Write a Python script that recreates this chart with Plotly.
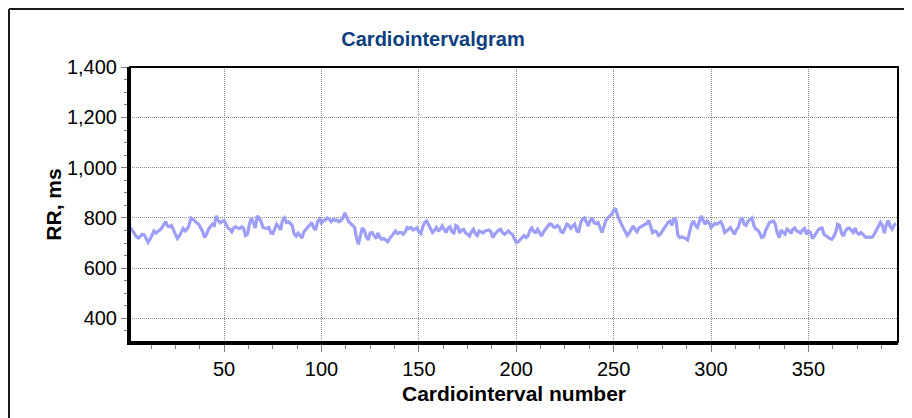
import plotly.graph_objects as go

# ---- data ----
beat_no = list(range(2, 396))

rr_ms = [
    761, 750, 735, 725, 720, 730, 735, 733, 718, 703,
    715, 735, 748, 740, 745, 752, 760, 775, 785, 768,
    765, 770, 755, 735, 718, 728, 745, 758, 748, 755,
    770, 800, 795, 785, 780, 775, 760, 745, 722, 735,
    755, 768, 775, 770, 808, 790, 780, 785, 790, 775,
    760, 755, 745, 760, 765, 760, 758, 765, 760, 730,
    735, 775, 800, 780, 760,
    808, 800, 785, 762, 760, 758, 762, 740, 738, 755,
    775, 765, 752, 790, 800, 782, 785, 778, 770, 735,
    728, 740, 730, 720, 745, 755, 760, 775, 782, 760,
    752, 785, 795, 780, 790, 792, 800, 795, 785, 795,
    790, 792, 785, 790, 800, 820, 805, 785, 778, 770,
    762, 720, 695, 730, 760, 750, 725, 712, 740, 742,
    730, 718, 740,
    722, 715, 718, 712, 705, 718, 728, 740, 748, 738,
    742, 742, 735, 745, 762, 758, 762, 752, 755, 760,
    745, 738, 765, 782, 788, 770, 758, 742, 750, 762,
    750, 755, 768, 755, 742, 760, 765, 745, 740, 770,
    765, 740, 752, 755, 740, 735, 728, 745, 755, 738,
    730, 748, 742, 740, 748, 750, 752, 745, 722, 735,
    745, 752, 755,
    740, 735, 742, 748, 740, 735, 718, 702, 705, 715,
    725, 730, 722, 728, 750, 760, 745, 742, 755, 738,
    728, 745, 755, 768, 775, 775, 765, 762, 770, 765,
    745, 742, 760, 775, 770, 758, 768, 775, 750, 742,
    778, 795, 800, 780, 768, 790, 800, 780, 778, 782,
    760, 742, 765, 790, 800, 808, 815, 830, 838, 810,
    790, 775, 760, 745, 730,
    740, 752, 768, 755, 745, 760, 765, 768, 772, 778,
    790, 770, 742, 748, 745, 730, 735, 748, 760, 768,
    782, 788, 770, 800, 792, 730, 722, 725, 722, 718,
    712, 750, 775, 788, 770, 762, 790, 808, 790, 775,
    788, 780, 762, 770, 778, 775, 780, 785, 770, 742,
    748, 755, 762, 748, 735, 752, 762, 790, 800, 775,
    770, 788, 795, 800, 770, 755, 752, 740, 722,
    725, 750, 770, 782, 785, 788, 775, 740, 722, 752,
    742, 735, 755, 750, 738, 755, 760, 748, 745, 740,
    752, 758, 735, 748, 742, 718, 728, 742, 752, 758,
    760, 735, 728, 725, 718, 715, 725, 742, 775, 770,
    740, 728, 748, 758, 760, 750, 742, 760, 740, 735,
    742, 735, 725, 722, 724, 722, 725, 738, 752, 762,
    782, 770, 740, 772, 790, 765, 755, 772, 778,
]

x_ticks = [50, 100, 150, 200, 250, 300, 350]
y_ticks = [400, 600, 800, 1000, 1200, 1400]

FONT = "Liberation Sans, Arial, sans-serif"

# the page body has an 8px margin, so the figure is a bit smaller
W, H = 904, 410
ML, MR, MT, MB = 122, 14, 59, 76

fig = go.Figure()
fig.add_trace(go.Scatter(
    x=beat_no, y=rr_ms, mode="lines",
    line=dict(color="#9e9ef7", width=3.2),
    hoverinfo="skip", showlegend=False,
))

axis_common = dict(
    showline=True, linecolor="black", linewidth=3,
    ticks="outside", tickcolor="#808080", tickwidth=1,
    showgrid=True, gridcolor="#8c8c8c", griddash="1px,1px", gridwidth=1,
    zeroline=False,
    tickfont=dict(family=FONT, size=20, color="black"),
)

fig.update_xaxes(
    axis_common,
    range=[1.7, 396], tickvals=x_ticks, ticklen=7,
    minor=dict(dtick=12.5, ticks="outside", ticklen=4, tickcolor="#808080", showgrid=False),
    title=dict(text="<b>Cardiointerval number</b>", font=dict(family=FONT, size=21, color="black"), standoff=8),
)
fig.update_yaxes(
    axis_common,
    range=[306, 1401], tickvals=y_ticks, tickformat=",", ticklen=6,
    minor=dict(dtick=50, ticks="outside", ticklen=3, tickcolor="#808080", showgrid=False),
    title=dict(text="<b>RR, ms</b>", font=dict(family=FONT, size=21, color="black"), standoff=0),
)

pw, ph = W - ML - MR, H - MT - MB
fx, fy = -(ML - 1) / pw, 1 + (MT - 1) / ph

# thin box on top / right, outer frame of the chart
fig.add_shape(type="rect", xref="paper", yref="paper", x0=0, y0=0, x1=1, y1=1,
              line=dict(color="black", width=2), layer="above")
fig.add_shape(type="line", xref="paper", yref="paper", x0=fx, y0=fy, x1=1.1, y1=fy,
              line=dict(color="#1a1a1a", width=2))
fig.add_shape(type="line", xref="paper", yref="paper", x0=fx, y0=fy, x1=fx, y1=-0.4,
              line=dict(color="#1a1a1a", width=2))

fig.update_layout(
    width=W, height=H,
    margin=dict(l=ML, r=MR, t=MT, b=MB),
    paper_bgcolor="white", plot_bgcolor="white",
    title=dict(text="<b>Cardiointervalgram</b>", x=425 / W, xanchor="center",
               xref="container", y=1 - 31 / H, yanchor="middle", yref="container",
               font=dict(family=FONT, size=20, color="#0b3e7e")),
)

fig.write_html("out.html")
